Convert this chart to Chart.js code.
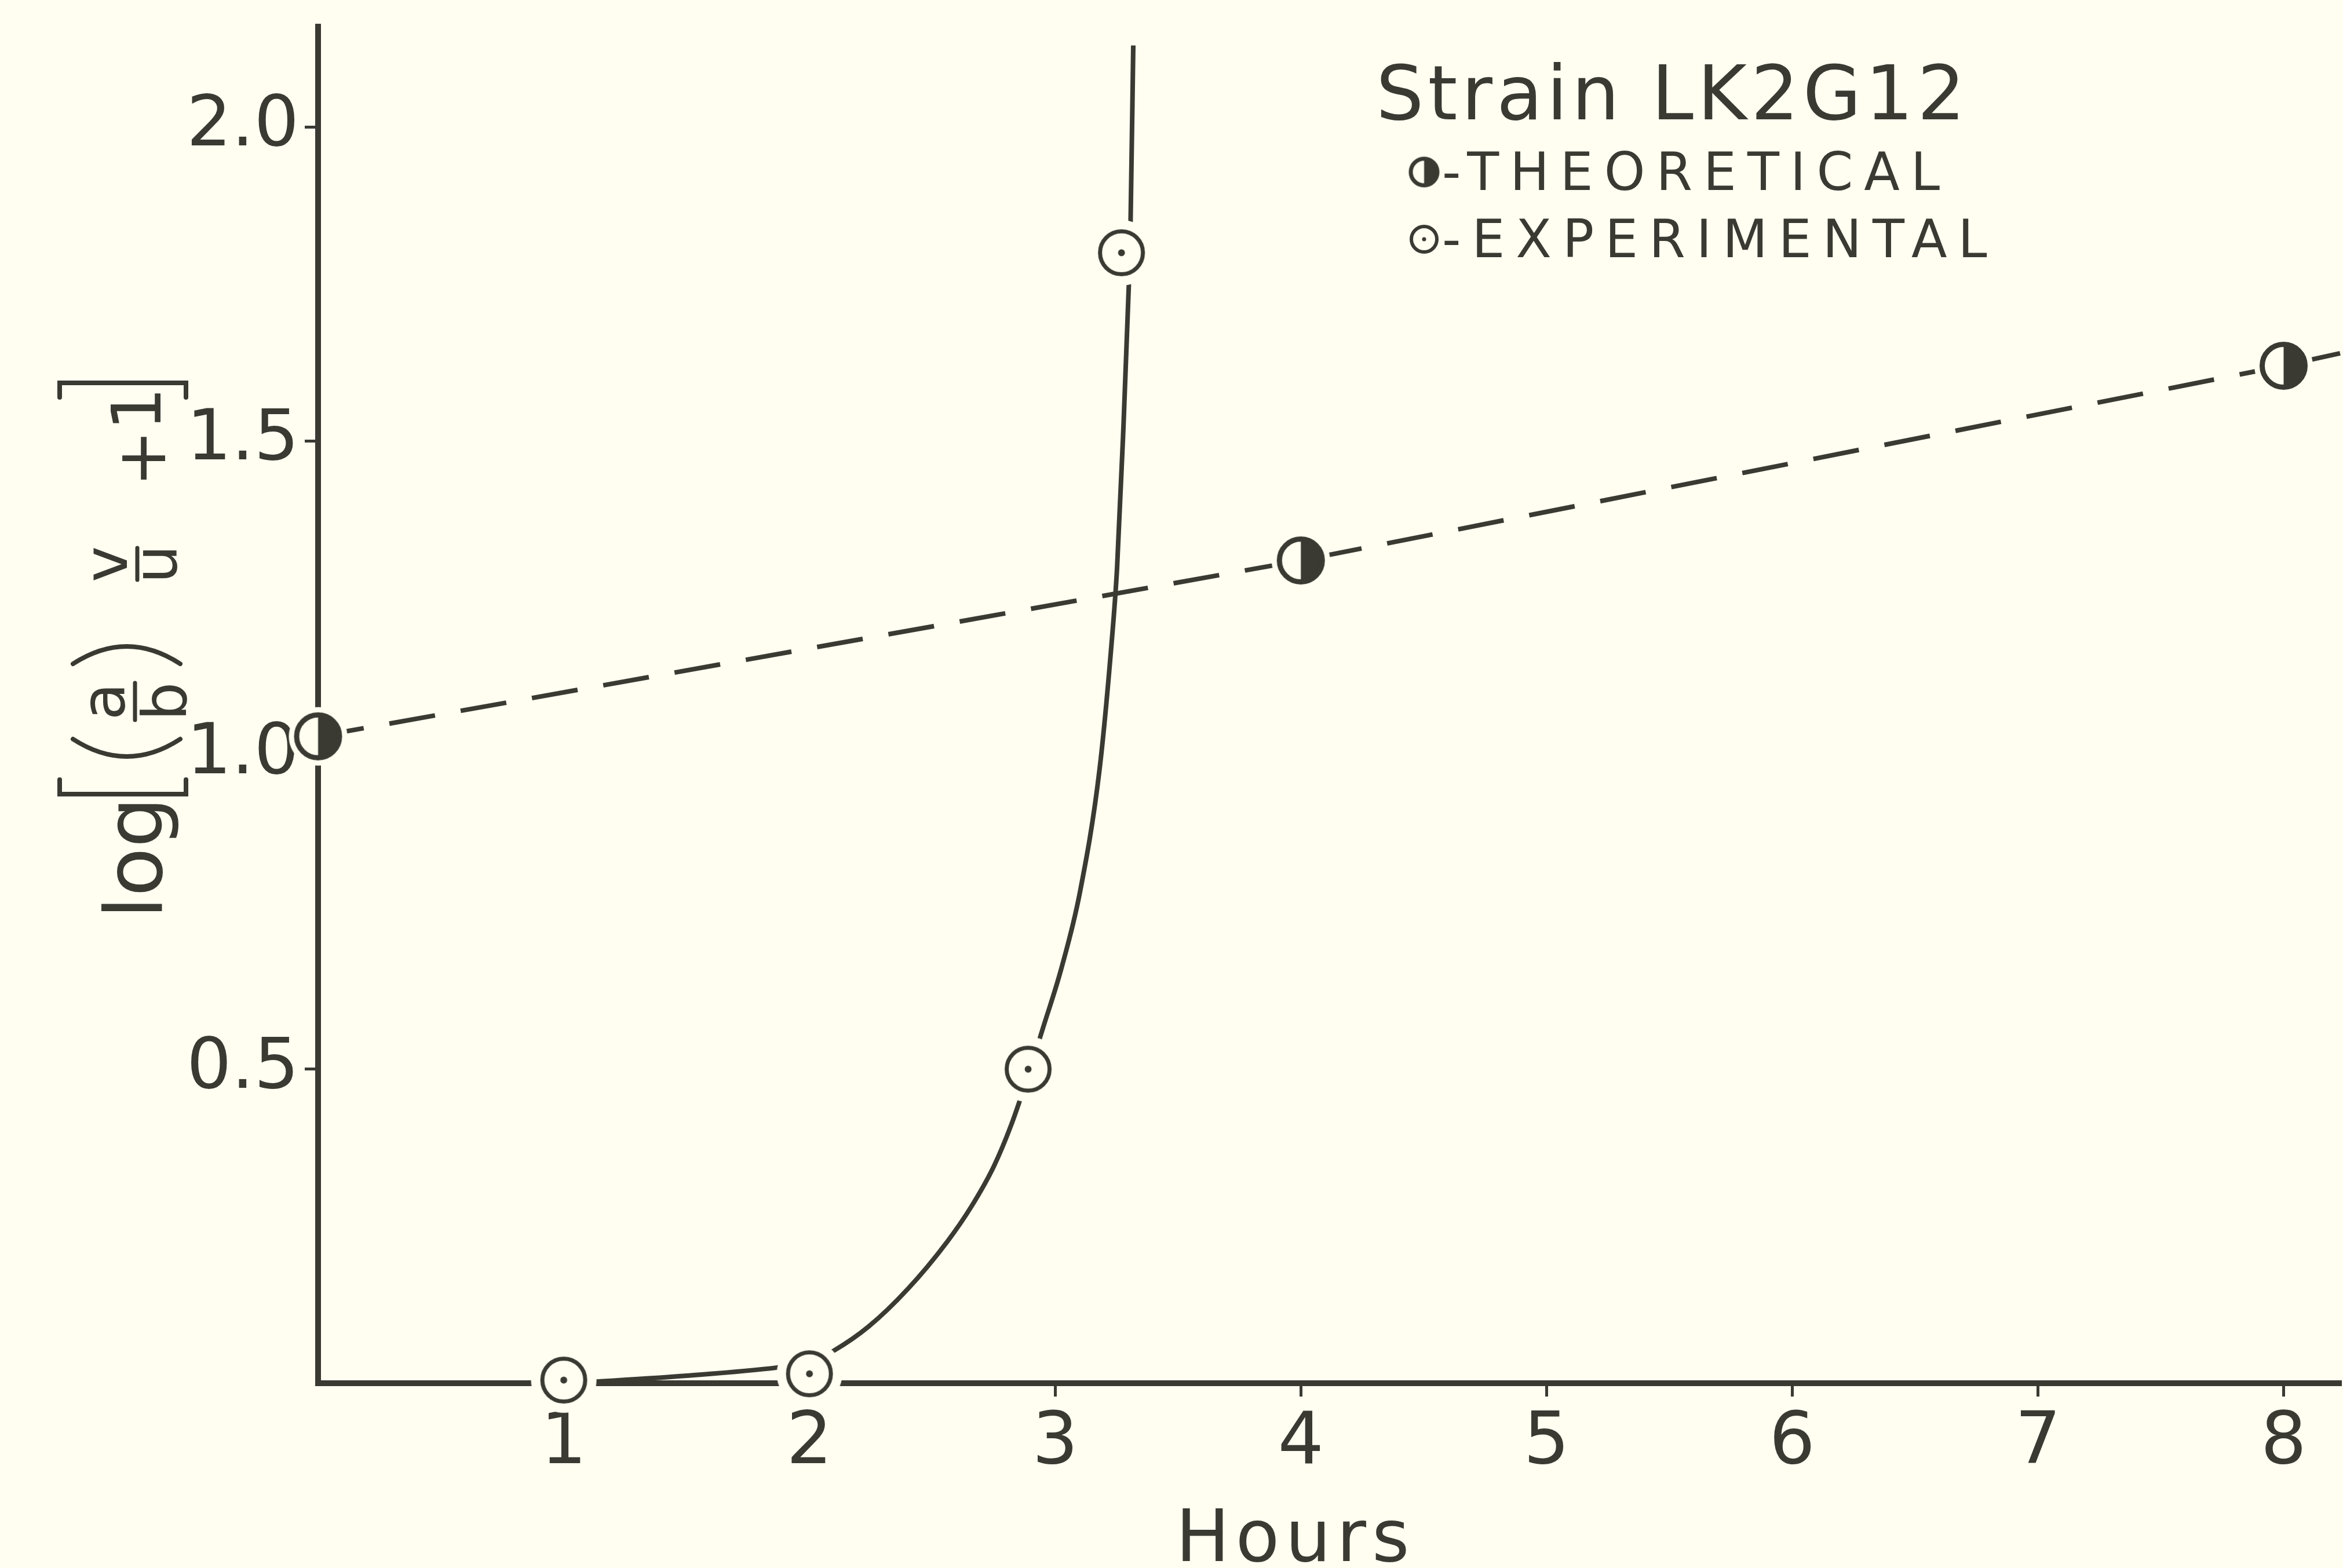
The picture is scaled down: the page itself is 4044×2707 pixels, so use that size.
<!DOCTYPE html>
<html>
<head>
<meta charset="utf-8">
<script src="https://cdn.jsdelivr.net/npm/chart.js@4.4.1/dist/chart.umd.min.js"></script>
<style>
  html, body { margin: 0; padding: 0; background: #fffef1; }
  canvas { display: block; }
</style>
</head>
<body>
<canvas id="strainChart" width="4044" height="2707"></canvas>
<script>
// values
const theoryHours = [0, 4, 8];
const theoryValues = [1.03, 1.31, 1.62];
const theoryLineHours = [0, 4, 8, 8.23];
const theoryLineValues = [1.03, 1.31, 1.62, 1.64];

const expHours = [1, 2, 2.89, 3.27];
const expValues = [0.005, 0.015, 0.5, 1.8];

const curveHours = [0, 1, 1.15, 1.5, 1.87, 2.0, 2.1, 2.24, 2.4, 2.56, 2.66, 2.75, 2.82, 2.89, 2.95, 3.025, 3.1, 3.18, 3.229, 3.252, 3.276, 3.3, 3.307, 3.318];
const curveValues = [0, 0, 0.003, 0.012, 0.025, 0.033, 0.052, 0.09, 0.15, 0.225, 0.282, 0.345, 0.41, 0.49, 0.565, 0.66, 0.78, 0.975, 1.175, 1.298, 1.504, 1.75, 1.85, 2.13];

const xTicks = [1, 2, 3, 4, 5, 6, 7, 8];
const yTicks = [0.5, 1.0, 1.5, 2.0];

const ink = '#3a3a33';
const paper = '#fffef1';
const font = 'DejaVu Sans';

const pairs = (xs, ys) => xs.map((x, i) => ({ x: x, y: ys[i] }));

// marker pictures: half filled circle and circle with a dot
function marker(r, stroke, halo, kind) {
  const size = Math.ceil((r + stroke / 2 + halo) * 2 + 4);
  const c = document.createElement('canvas');
  c.width = size; c.height = size;
  const g = c.getContext('2d');
  const m = size / 2;
  g.fillStyle = paper;
  g.beginPath(); g.arc(m, m, r + stroke / 2 + halo, 0, Math.PI * 2); g.fill();
  g.fillStyle = ink;
  if (kind === 'half') {
    g.beginPath(); g.arc(m, m, r, -Math.PI / 2, Math.PI / 2); g.closePath(); g.fill();
  } else {
    g.beginPath(); g.arc(m, m, Math.max(2.5, r * 0.16), 0, Math.PI * 2); g.fill();
  }
  g.strokeStyle = ink; g.lineWidth = stroke;
  g.beginPath(); g.arc(m, m, r, 0, Math.PI * 2); g.stroke();
  return c;
}

const theoMark = marker(37, 9, 9, 'half');
const expMark = marker(37, 7, 16, 'dot');
const theoKey = marker(23, 7, 0, 'half');
const expKey = marker(22, 6, 0, 'dot');

const textPlugin = {
  id: 'figureText',
  afterDraw(chart) {
    const ctx = chart.ctx;
    ctx.save();
    ctx.fillStyle = ink;
    ctx.strokeStyle = ink;

    // x title
    ctx.font = '124px ' + font;
    ctx.textAlign = 'center';
    ctx.textBaseline = 'alphabetic';
    ctx.letterSpacing = '10px';
    ctx.fillText('Hours', 2236, 2695);

    // key
    ctx.textAlign = 'left';
    ctx.font = '130px ' + font;
    ctx.letterSpacing = '7px';
    ctx.fillText('Strain LK2G12', 2375, 206);
    ctx.font = '90px ' + font;
    ctx.letterSpacing = '19px';
    ctx.fillText('-THEORETICAL', 2489, 328);
    ctx.fillText('-EXPERIMENTAL', 2489, 444);
    ctx.letterSpacing = '0px';
    ctx.drawImage(theoKey, 2458 - theoKey.width / 2, 297 - theoKey.height / 2);
    ctx.drawImage(expKey, 2458 - expKey.width / 2, 413 - expKey.height / 2);

    // y title, rotated
    ctx.translate(211, 1586);
    ctx.rotate(-Math.PI / 2);
    ctx.lineWidth = 8;
    ctx.lineCap = 'round';
    ctx.font = '138px ' + font;
    ctx.fillText('log', 0, 68);
    ctx.beginPath();
    ctx.moveTo(240, -108); ctx.lineTo(215, -108); ctx.lineTo(215, 110); ctx.lineTo(240, 110);
    ctx.stroke();
    ctx.beginPath();
    ctx.moveTo(310, -85); ctx.quadraticCurveTo(250, 8, 310, 100);
    ctx.stroke();
    ctx.beginPath();
    ctx.moveTo(440, -85); ctx.quadraticCurveTo(500, 8, 440, 100);
    ctx.stroke();
    ctx.textAlign = 'center';
    ctx.font = '105px ' + font;
    ctx.fillText('a', 375, 4);
    ctx.fillText('b', 375, 110);
    ctx.lineWidth = 7;
    ctx.beginPath(); ctx.moveTo(343, 22); ctx.lineTo(407, 22); ctx.stroke();
    ctx.fillText('v', 612, 8);
    ctx.fillText('u', 612, 94);
    ctx.beginPath(); ctx.moveTo(585, 26); ctx.lineTo(640, 26); ctx.stroke();
    ctx.font = '118px ' + font;
    ctx.fillText('+', 795, 74);
    ctx.fillText('1', 880, 66);
    ctx.lineWidth = 8;
    ctx.beginPath();
    ctx.moveTo(900, -108); ctx.lineTo(925, -108); ctx.lineTo(925, 110); ctx.lineTo(900, 110);
    ctx.stroke();
    ctx.restore();
  }
};

new Chart(document.getElementById('strainChart'), {
  type: 'scatter',
  data: {
    datasets: [
      {
        label: 'Theoretical',
        data: pairs(theoryHours, theoryValues),
        showLine: false,
        pointStyle: theoMark,
        clip: false,
        order: 1
      },
      {
        label: 'Experimental',
        data: pairs(expHours, expValues),
        showLine: false,
        pointStyle: expMark,
        clip: false,
        order: 2
      },
      {
        label: 'Theoretical line',
        data: pairs(theoryLineHours, theoryLineValues),
        showLine: true,
        borderColor: ink,
        borderWidth: 8,
        borderDash: [80, 45],
        pointRadius: 0,
        tension: 0,
        clip: false,
        order: 3
      },
      {
        label: 'Experimental curve',
        data: pairs(curveHours, curveValues),
        showLine: true,
        borderColor: ink,
        borderWidth: 8,
        pointRadius: 0,
        cubicInterpolationMode: 'monotone',
        clip: false,
        order: 4
      }
    ]
  },
  options: {
    responsive: false,
    animation: false,
    devicePixelRatio: 1,
    layout: { padding: { top: 46, left: 0, right: 0, bottom: 0 } },
    plugins: {
      legend: { display: false },
      tooltip: { enabled: false },
      title: { display: false }
    },
    scales: {
      x: {
        type: 'linear',
        min: 0,
        max: 8.23,
        afterBuildTicks: s => { s.ticks = xTicks.map(v => ({ value: v })); },
        afterFit: s => { s.height = 319; s.paddingLeft = 0; s.paddingRight = 0; },
        ticks: {
          color: ink,
          font: { family: font, size: 125 },
          padding: 8,
          maxRotation: 0,
          callback: v => String(v)
        },
        grid: { drawOnChartArea: false, drawTicks: true, tickLength: 23, lineWidth: 5, color: ink },
        border: { display: true, color: ink, width: 10 }
      },
      y: {
        type: 'linear',
        min: 0,
        max: 2.16,
        afterBuildTicks: s => { s.ticks = yTicks.map(v => ({ value: v })); },
        afterFit: s => { s.width = 549; s.paddingTop = 0; s.paddingBottom = 0; },
        ticks: {
          color: ink,
          font: { family: font, size: 122 },
          padding: 10,
          callback: v => v.toFixed(1)
        },
        grid: { drawOnChartArea: false, drawTicks: true, tickLength: 23, lineWidth: 5, color: ink },
        border: { display: true, color: ink, width: 10 }
      }
    }
  },
  plugins: [textPlugin]
});
</script>
</body>
</html>
